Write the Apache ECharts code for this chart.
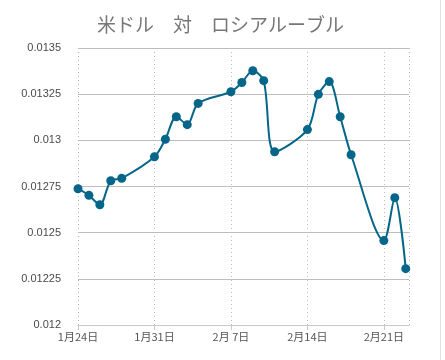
<!DOCTYPE html>
<html>
<head>
<meta charset="utf-8">
<script src="https://cdn.jsdelivr.net/npm/echarts@6/dist/echarts.min.js"></script>
<style>html,body{margin:0;padding:0;background:#fff}#c{width:445px;height:360px}</style>
</head>
<body>
<div id="c"></div>
<script>
const titleText = '米ドル　対　ロシアルーブル';
const dates = ['2014-01-24','2014-01-25','2014-01-26','2014-01-27','2014-01-28','2014-01-31','2014-02-01','2014-02-02','2014-02-03','2014-02-04','2014-02-07','2014-02-08','2014-02-09','2014-02-10','2014-02-11','2014-02-14','2014-02-15','2014-02-16','2014-02-17','2014-02-18','2014-02-21','2014-02-22','2014-02-23'];
const rates = [0.012738,0.012702,0.012651,0.012781,0.012794,0.012911,0.013006,0.013128,0.013085,0.0132,0.013263,0.013313,0.013377,0.013323,0.012938,0.013058,0.013249,0.013318,0.013128,0.012922,0.012457,0.012689,0.012305];
const yTicks = [0.012,0.01225,0.0125,0.01275,0.013,0.01325,0.0135];
const startDate = '2014-01-24';

const DAY = 86400000;
const t0 = Date.parse(startDate + 'T00:00:00Z');
const pts = dates.map((d, i) => [(Date.parse(d + 'T00:00:00Z') - t0) / DAY, rates[i]]);

function fmtDay(v) {
  const d = new Date(t0 + Math.round(v) * DAY);
  const day = d.getUTCDate();
  return (d.getUTCMonth() + 1) + '月' + (day < 10 ? ' ' + day : day) + '日';
}

const chart = echarts.init(document.getElementById('c'), null, {renderer: 'canvas'});
chart.setOption({
  animation: false,
  backgroundColor: '#fff',
  title: {
    text: titleText,
    left: 92, top: 10,
    textStyle: {fontSize: 19, fontWeight: 'normal', color: '#777', fontFamily: 'Noto Sans CJK JP'}
  },
  grid: {left: 78, right: 36, top: 48, bottom: 35},
  xAxis: {
    type: 'value', min: 0, max: 30.3, interval: 7,
    axisLine: {show: true, lineStyle: {color: '#c4c9d4', width: 1}},
    axisTick: {show: true, length: 5, lineStyle: {color: '#c4c9d4'}},
    axisLabel: {
      formatter: fmtDay, color: '#555', fontSize: 11, margin: 6,
      fontFamily: 'Noto Sans CJK JP',
      showMaxLabel: false
    },
    splitLine: {show: true, lineStyle: {type: [1, 3], color: '#bbb', width: 1}}
  },
  yAxis: {
    type: 'value', min: yTicks[0], max: yTicks[yTicks.length - 1], interval: 0.00025,
    axisLine: {show: false}, axisTick: {show: false},
    axisLabel: {
      formatter: v => String(parseFloat(v.toFixed(6))),
      color: '#4a4a4a', fontSize: 11, margin: 17, fontFamily: 'Arial'
    },
    splitLine: {show: true, lineStyle: {color: '#bdbdbd', width: 1}}
  },
  series: [{
    type: 'line', data: pts, smooth: 0.3,
    symbol: 'circle', symbolSize: 9,
    lineStyle: {color: '#05668a', width: 2},
    itemStyle: {color: '#05668a'}
  }],
  graphic: [{
    type: 'line', shape: {x1: 440.5, y1: 0, x2: 440.5, y2: 360},
    style: {stroke: '#e2e2e2', lineWidth: 1}
  }]
});
</script>
</body>
</html>
